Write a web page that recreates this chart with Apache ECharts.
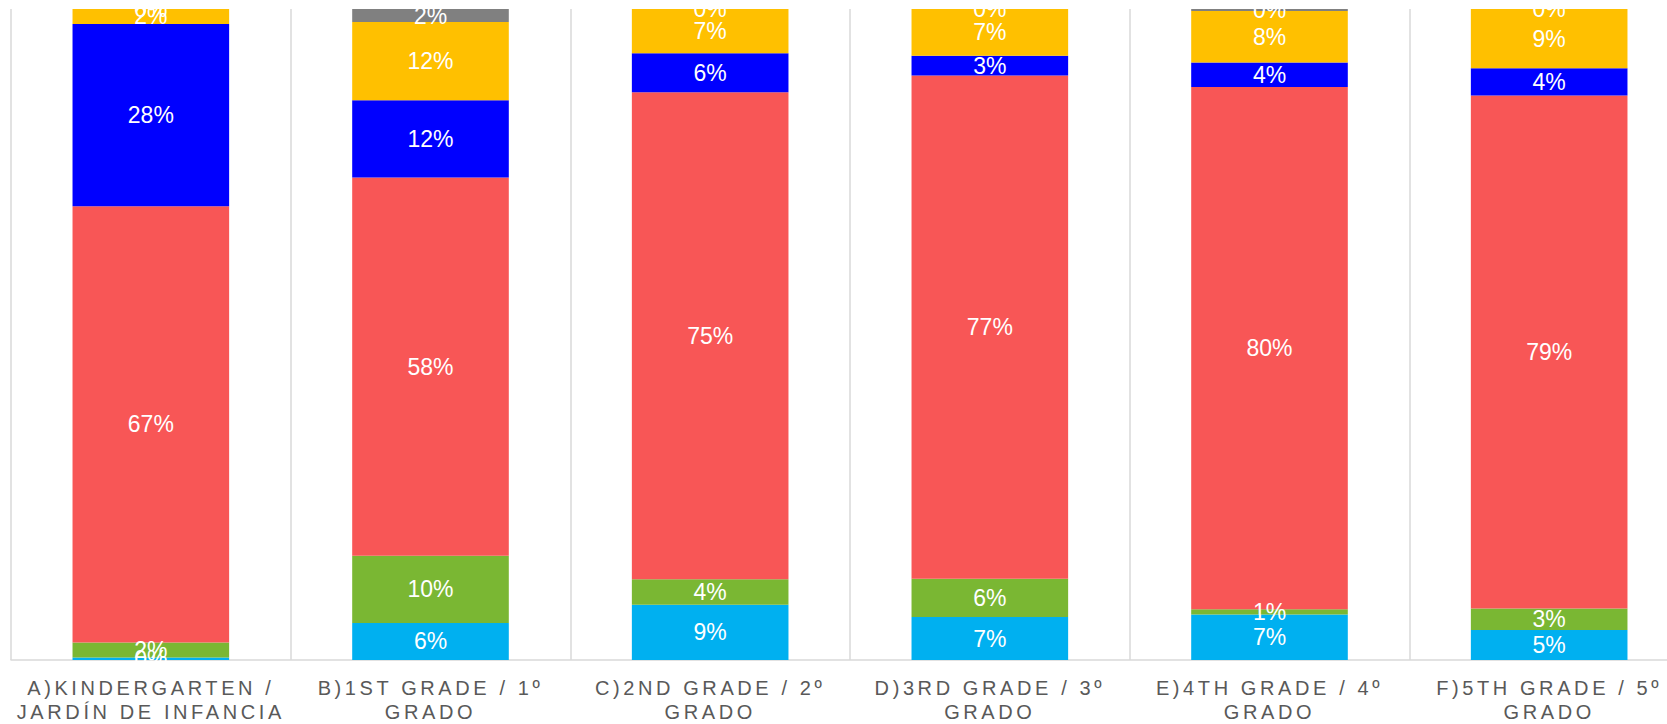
<!DOCTYPE html>
<html>
<head>
<meta charset="utf-8">
<script src="https://cdn.jsdelivr.net/npm/echarts@6/dist/echarts.min.js"></script>
<style>
  html, body { margin: 0; padding: 0; background: #ffffff; overflow: hidden; width: 1667px; height: 724px; }
  #chart { width: 1689px; height: 724px; }
  #chart text[fill="#595959"] { letter-spacing: 3.6px; }
</style>
</head>
<body>
<div id="chart"></div>
<script>
const categories = [
  'A)KINDERGARTEN /\nJARDÍN DE INFANCIA',
  'B)1ST GRADE / 1º\nGRADO',
  'C)2ND GRADE / 2º\nGRADO',
  'D)3RD GRADE / 3º\nGRADO',
  'E)4TH GRADE / 4º\nGRADO',
  'F)5TH GRADE / 5º\nGRADO'
];
// percentages, stacked bottom to top
const lightBlueValues = [0.4, 5.7, 8.5, 6.6, 7.0, 4.6];
const greenValues     = [2.3, 10.3, 3.9, 5.9, 0.8, 3.3];
const redValues       = [67.0, 58.1, 74.8, 77.3, 80.2, 78.8];
const blueValues      = [28.0, 11.9, 6.0, 3.0, 3.8, 4.2];
const yellowValues    = [2.3, 12.0, 6.8, 7.2, 7.9, 9.1];
const grayValues      = [0.0, 2.0, 0.0, 0.0, 0.3, 0.0];

const seriesDefs = [
  { name: 'light blue', data: lightBlueValues, color: '#00B0F0' },
  { name: 'green',      data: greenValues,     color: '#7AB733' },
  { name: 'red',        data: redValues,       color: '#F85656' },
  { name: 'blue',       data: blueValues,      color: '#0000FF' },
  { name: 'yellow',     data: yellowValues,    color: '#FFC000' },
  { name: 'gray',       data: grayValues,      color: '#808080' }
];

const chart = echarts.init(document.getElementById('chart'), null, { renderer: 'svg' });
chart.setOption({
  animation: false,
  backgroundColor: '#ffffff',
  grid: { left: 11, right: 0, top: 9, bottom: 61, containLabel: false },
  xAxis: {
    type: 'category',
    data: categories,
    axisLine: { show: true, lineStyle: { color: '#D9D9D9', width: 1.5 } },
    axisTick: { show: false },
    splitLine: { show: true, lineStyle: { color: '#D9D9D9', width: 1.5 } },
    axisLabel: {
      color: '#595959',
      fontFamily: 'Liberation Sans, Arial, sans-serif',
      fontSize: 20,
      lineHeight: 24,
      margin: 16,
      interval: 0
    }
  },
  yAxis: {
    type: 'value',
    min: 0,
    max: 100,
    show: false,
    splitLine: { show: false }
  },
  series: seriesDefs.map(s => ({
    name: s.name,
    type: 'bar',
    stack: 'total',
    barWidth: '56%',
    data: s.data,
    itemStyle: { color: s.color },
    label: {
      show: true,
      position: 'inside',
      color: '#ffffff',
      fontFamily: 'Liberation Sans, Arial, sans-serif',
      fontSize: 23,
      formatter: p => Math.round(p.value) + '%'
    }
  }))
});
</script>
</body>
</html>
